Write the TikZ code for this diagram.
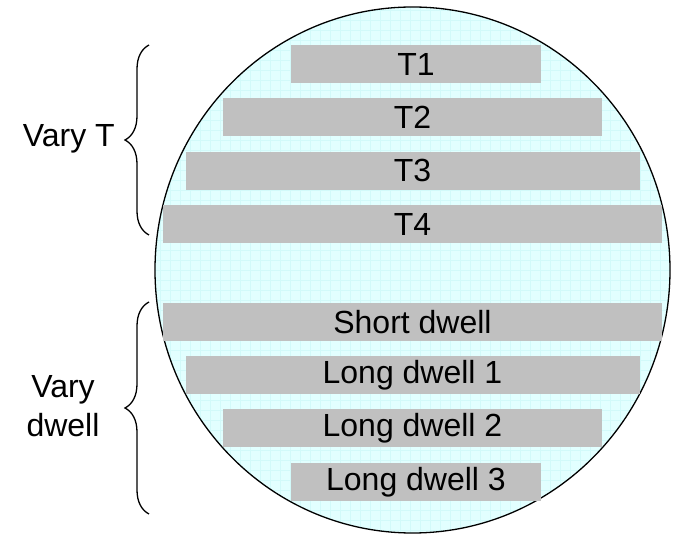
\documentclass[tikz,border=0pt]{standalone}
\usepackage{fontspec}
\setmainfont{Liberation Sans}
\usetikzlibrary{positioning,decorations.pathreplacing}
\definecolor{barfill}{RGB}{192,192,192}
\definecolor{wafer}{RGB}{226,255,255}
\definecolor{waferline}{RGB}{210,250,250}
\tikzstyle{bar} = [fill=barfill, rectangle, minimum height=38pt, inner sep=0pt, font=\fontsize{32}{38}\selectfont]
\tikzstyle{label} = [inner sep=0pt, font=\fontsize{32}{39}\selectfont]
\tikzstyle{brace} = [decorate, decoration={brace, amplitude=24pt}, line width=1.3pt]

\begin{document}
\begin{tikzpicture}[x=1pt,y=-1pt]
		\useasboundingbox (0,0) rectangle (673,534);

		% wafer
		\node[coordinate] (centre) at (412.5,270) {};
		\fill[wafer] (centre) ellipse [x radius=257.5, y radius=263];
		\begin{scope}
			\clip (centre) ellipse [x radius=257.5, y radius=263];
			\draw[waferline, line width=0.5pt, step=10pt] (150,0) grid (673,534);
		\end{scope}
		\draw[line width=1.3pt] (centre) ellipse [x radius=257.5, y radius=263];

		% temperature rows
		\node[bar, minimum width=250pt] (t1) at (416,64) {T1};
		\node[bar, minimum width=379pt, below=15pt of t1, xshift=-3.5pt] (t2) {T2};
		\node[bar, minimum width=454pt, below=15pt of t2] (t3) {T3};
		\node[bar, minimum width=499pt, below=15pt of t3] (t4) {T4};

		% dwell rows
		\node[bar, minimum width=499pt, below=59pt of t4] (sd) {Short dwell};
		\node[bar, minimum width=454pt, below=15pt of sd] (ld1) {Long dwell 1};
		\node[bar, minimum width=379pt, below=15pt of ld1] (ld2) {Long dwell 2};
		\node[bar, minimum width=250pt, below=15pt of ld2, xshift=3.5pt] (ld3) {Long dwell 3};

		% braces
		\node[coordinate] (tbtop) at (149,45) {};
		\node[coordinate] (tbbot) at (149,235) {};
		\node[coordinate] (dbtop) at (149,302) {};
		\node[coordinate] (dbbot) at (149,514) {};
		\draw[brace] (tbbot) -- (tbtop);
		\draw[brace] (dbbot) -- (dbtop);

		% label the braces
		\node[label, anchor=east] (varyt) at (115,139) {Vary T};
		\node[label, align=center] (varydwell) at (63,406) {Vary\\dwell};
	\end{tikzpicture}
\end{document}
